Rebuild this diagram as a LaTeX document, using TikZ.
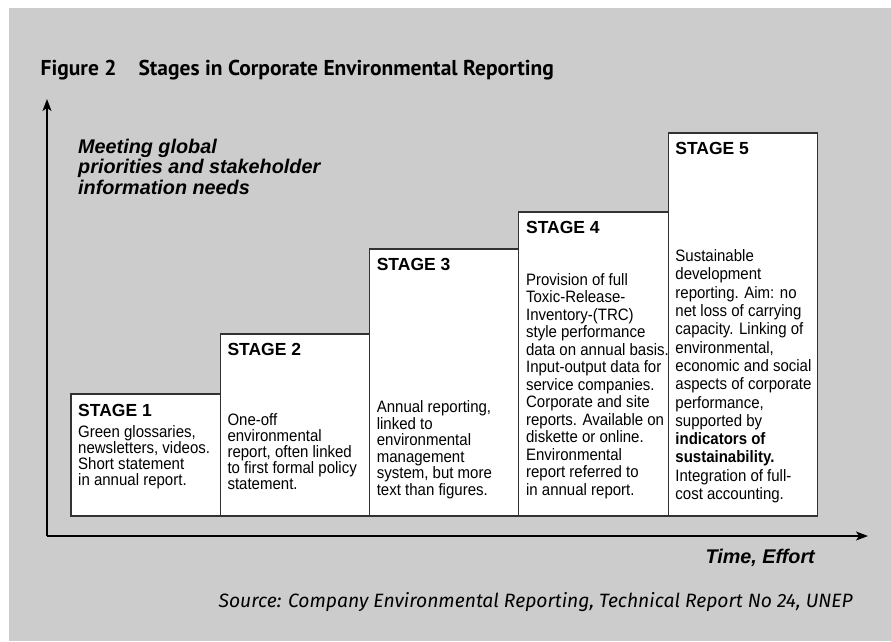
\documentclass[tikz,border=0pt]{standalone}
\usepackage{fontspec}
\setmainfont{Liberation Sans}
\newfontfamily\titlefont{PT Sans}
\newfontfamily\notefont{Fira Sans}
\newfontfamily\bodyfont[FakeStretch=0.91]{Liberation Sans}
\usetikzlibrary{arrows.meta}
\definecolor{panel}{RGB}{204,204,204}
\definecolor{boxline}{RGB}{50,50,50}

\begin{document}
\begin{tikzpicture}[x=1pt,y=-1pt,
  stagebox/.style={draw=boxline, line width=1.1pt, fill=white, minimum width=149.3pt,
    inner sep=0pt, outer sep=0pt, anchor=south west},
  stagehead/.style={font=\bfseries\fontsize{17.5}{20}\selectfont, anchor=base west, inner sep=0pt},
  stagetext/.style={font=\bodyfont\fontsize{16.5}{#1}\selectfont, align=left, anchor=base west, inner sep=0pt},
  stagetext/.default=16,
  axis/.style={line width=1.4pt, -{Stealth[length=12pt,width=9pt,inset=3pt]}},
  label/.style={font=\bfseries\itshape\fontsize{19.8}{20.5}\selectfont, inner sep=0pt},
]
\useasboundingbox (0,0) rectangle (891,641);
\fill[white] (0,0) rectangle (891,641);
\fill[panel] (9,8) rectangle (891,641);

% title
\node[anchor=base west, inner sep=0pt, font=\titlefont\bfseries\fontsize{21.5}{26}\selectfont]
  (title) at (40.5,75) {Figure 2\hspace{22pt}Stages in Corporate Environmental Reporting};

% axes
\coordinate (origin) at (47,536);
\coordinate (ytip) at (47,99);
\coordinate (xtip) at (868,536);
\draw[axis] (origin) -- (ytip);
\draw[axis] (origin) -- (xtip);

% axis labels (base anchor = last line)
\node[label, align=left, anchor=base west] (ylabel) at (78,194)
  {Meeting global\\priorities and stakeholder\\information needs};
\node[label, anchor=base east] (xlabel) at (815,563.3) {Time, Effort};

% stage boxes
\node[stagebox, minimum height=122pt] (b1) at (71,516) {};
\node[stagebox, minimum height=182pt] (b2) at (220.3,516) {};
\node[stagebox, minimum height=267pt] (b3) at (369.6,516) {};
\node[stagebox, minimum height=304pt] (b4) at (518.9,516) {};
\node[stagebox, minimum height=383pt] (b5) at (668.2,516) {};

\node[stagehead] (h1) at (78,416.5) {STAGE 1};
\node[stagehead] (h2) at (227.3,355.5) {STAGE 2};
\node[stagehead] (h3) at (376.6,270.7) {STAGE 3};
\node[stagehead] (h4) at (525.9,233) {STAGE 4};
\node[stagehead] (h5) at (675.2,154.5) {STAGE 5};

% stage descriptions (placed by the baseline of their last line)
\node[stagetext] (t1) at (78,485)
  {Green glossaries,\\newsletters, videos.\\Short statement\\in annual report.};
\node[stagetext] (t2) at (227.3,489)
  {One-off\\environmental\\report, often linked\\to first formal policy\\statement.};
\node[stagetext=16.5] (t3) at (376.6,495.2)
  {Annual reporting,\\linked to\\environmental\\management\\system, but more\\text than figures.};
\node[stagetext=17.5] (t4) at (525.9,495)
  {Provision of full\\Toxic-Release-\\Inventory-(TRC)\\style performance\\data on annual basis.\\Input-output data for\\service companies.\\Corporate and site\\reports. Available on\\diskette or online.\\Environmental\\report referred to\\in annual report.};
\node[stagetext=18.3] (t5) at (675.2,499.5)
  {Sustainable\\development\\reporting. Aim: no\\net loss of carrying\\capacity. Linking of\\environmental,\\economic and social\\aspects of corporate\\performance,\\supported by\\\textbf{indicators of}\\\textbf{sustainability.}\\Integration of full-\\cost accounting.};

% source line
\node[anchor=base east, inner sep=0pt, font=\notefont\itshape\fontsize{19.3}{22}\selectfont]
  (source) at (853,607.3) {Source: Company Environmental Reporting, Technical Report No 24, UNEP};
\end{tikzpicture}
\end{document}
